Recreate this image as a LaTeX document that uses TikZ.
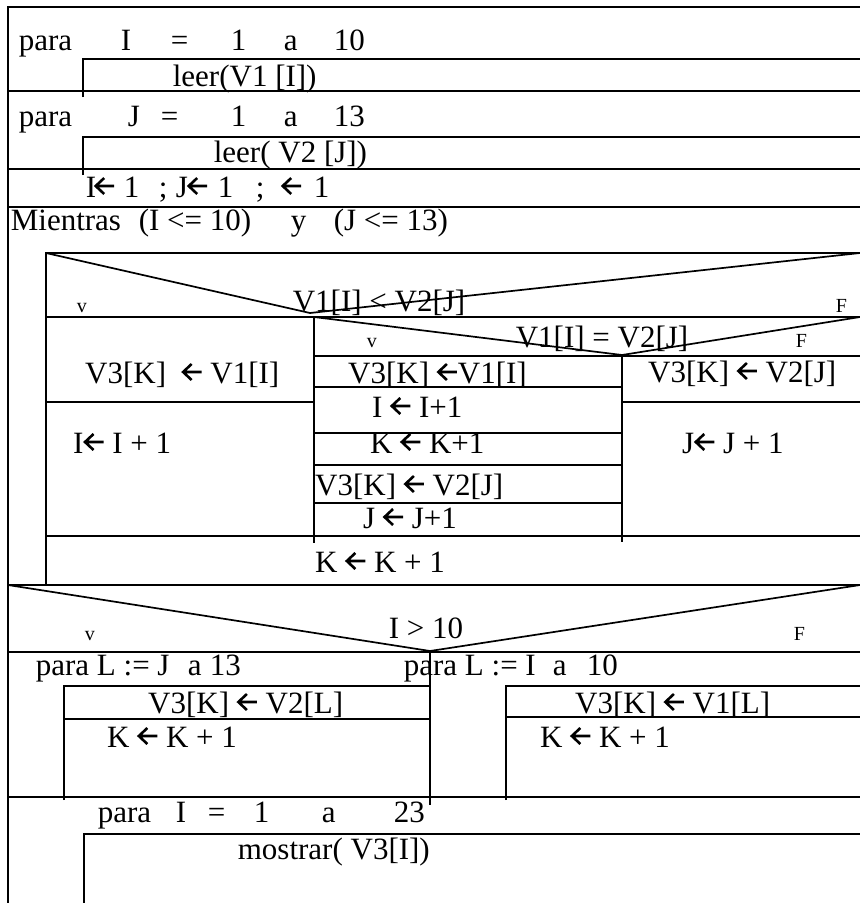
\documentclass[tikz,border=0pt]{standalone}
\usepackage{fontspec}
\setmainfont{Liberation Serif}

% thick left arrow used for assignments
\newcommand\flecha{\tikz[baseline=0pt]{\useasboundingbox (0pt,0pt) rectangle (21pt,1pt);
  \draw[line width=2.6pt,line join=miter] (20pt,11pt) -- (1.5pt,11pt) (10pt,19pt) -- (1.5pt,11pt) -- (10pt,3pt);}}

\tikzset{
  txt/.style={inner sep=0pt, anchor=base west, font=\fontsize{31}{33}\selectfont},
  lbl/.style={inner sep=0pt, anchor=base west, font=\fontsize{20}{22}\selectfont},
}

\begin{document}
\begin{tikzpicture}[x=1pt,y=-1pt,line width=1.7pt]
	\useasboundingbox (0,0) rectangle (860,903);

	% frame and the two reading loops
	\begin{scope}
		\draw (860,7) -- (8,7) -- (8,903);
		\draw (83,97) -- (83,59) -- (860,59);
		\draw (8,91) -- (860,91);
		\draw (83,175) -- (83,137) -- (860,137);
		\draw (8,169) -- (860,169);
		\draw (8,207) -- (860,207);
	\end{scope}

	\foreach \t/\x [count=\i] in {para/18, I/120, =/170, 1/230, a/283, 10/333}
		\node[txt] (pI-\i) at (\x,50) {\t};
	\node[txt] (leer1) at (172,86) {leer(V1 [I])};
	\foreach \t/\x [count=\i] in {para/18, J/127, =/160, 1/230, a/283, 13/333}
		\node[txt] (pJ-\i) at (\x,126) {\t};
	\node[txt] (leer2) at (213,162) {leer( V2 [J])};
	\foreach \t/\x [count=\i] in {I/85, \flecha/94, 1/123, ;/158, J/175, \flecha/187, 1/217, ;/255, \flecha/281, 1/313}
		\node[txt] (ini-\i) at (\x,197) {\t};

	% while loop
	\foreach \t/\x [count=\i] in {Mientras/10, (I <= 10)/138, y/290, (J <= 13)/333}
		\node[txt] (mien-\i) at (\x,230) {\t};

	\begin{scope}
		\draw (46,585) -- (46,253) -- (860,253);
		\draw (46,253) -- (310,313) -- (860,253);
		\draw (46,317) -- (860,317);
		\draw (46,402) -- (314,402);
		\draw (314,317) -- (314,543);
		\draw (46,536) -- (860,536);
		% nested test
		\draw (314,317) -- (622,355) -- (860,317);
		\draw (314,356) -- (860,356);
		\draw (622,356) -- (622,542);
		\draw (622,402) -- (860,402);
		\foreach \y in {387,433,465,503}
			\draw (314,\y) -- (622,\y);
	\end{scope}

	\node[lbl] (v1) at (76,312) {v};
	\node[txt] (cond1) at (292,311) {V1[I] < V2[J]};
	\node[lbl] (f1) at (835,312) {F};
	\node[lbl] (v2) at (366,347) {v};
	\node[txt] (cond2) at (515,347) {V1[I] = V2[J]};
	\node[lbl] (f2) at (795,347) {F};

	\node[txt] (a1) at (85,383) {V3[K]\ \ \flecha{} V1[I]};
	\node[txt] (a2) at (73,453) {I\flecha{} I + 1};
	\node[txt] (b1) at (348,383) {V3[K] \flecha{}V1[I]};
	\node[txt] (b2) at (372,417) {I \flecha{} I+1};
	\node[txt] (b3) at (370,453) {K \flecha{} K+1};
	\node[txt] (b4) at (315,495) {V3[K] \flecha{} V2[J]};
	\node[txt] (b5) at (363,528) {J \flecha{} J+1};
	\node[txt] (c1) at (648,382) {V3[K] \flecha{} V2[J]};
	\node[txt] (c2) at (682,453) {J\flecha{} J + 1};
	\node[txt] (kinc) at (315,572) {K \flecha{} K + 1};

	% copy what is left
	\begin{scope}
		\draw (8,585) -- (860,585);
		\draw (8,585) -- (430,651) -- (860,585);
		\draw (8,652) -- (860,652);
		\draw (430,652) -- (430,805);
		\draw (64,800) -- (64,686) -- (430,686);
		\draw (64,719) -- (430,719);
		\draw (506,800) -- (506,686) -- (860,686);
		\draw (506,717) -- (860,717);
		\draw (8,797) -- (860,797);
	\end{scope}

	\node[lbl] (v3) at (84,640) {v};
	\node[txt] (cond3) at (388,638) {I > 10};
	\node[lbl] (f3) at (793,640) {F};

	\foreach \t/\x [count=\i] in {para L := J/35, a/187, 13/209}
		\node[txt] (pL-\i) at (\x,675) {\t};
	\node[txt] (d1) at (148,713) {V3[K] \flecha{} V2[L]};
	\node[txt] (d2) at (107,747) {K \flecha{} K + 1};
	\foreach \t/\x [count=\i] in {para L := I/403, a/552, 10/586}
		\node[txt] (pR-\i) at (\x,675) {\t};
	\node[txt] (e1) at (575,713) {V3[K] \flecha{} V1[L]};
	\node[txt] (e2) at (540,747) {K \flecha{} K + 1};

	% show the result
	\draw (84,903) -- (84,834) -- (860,834);
	\foreach \t/\x [count=\i] in {para/97, I/175, =/207, 1/253, a/321, 23/393}
		\node[txt] (pM-\i) at (\x,822) {\t};
	\node[txt] (mostrar) at (237,859) {mostrar( V3[I])};
\end{tikzpicture}
\end{document}
